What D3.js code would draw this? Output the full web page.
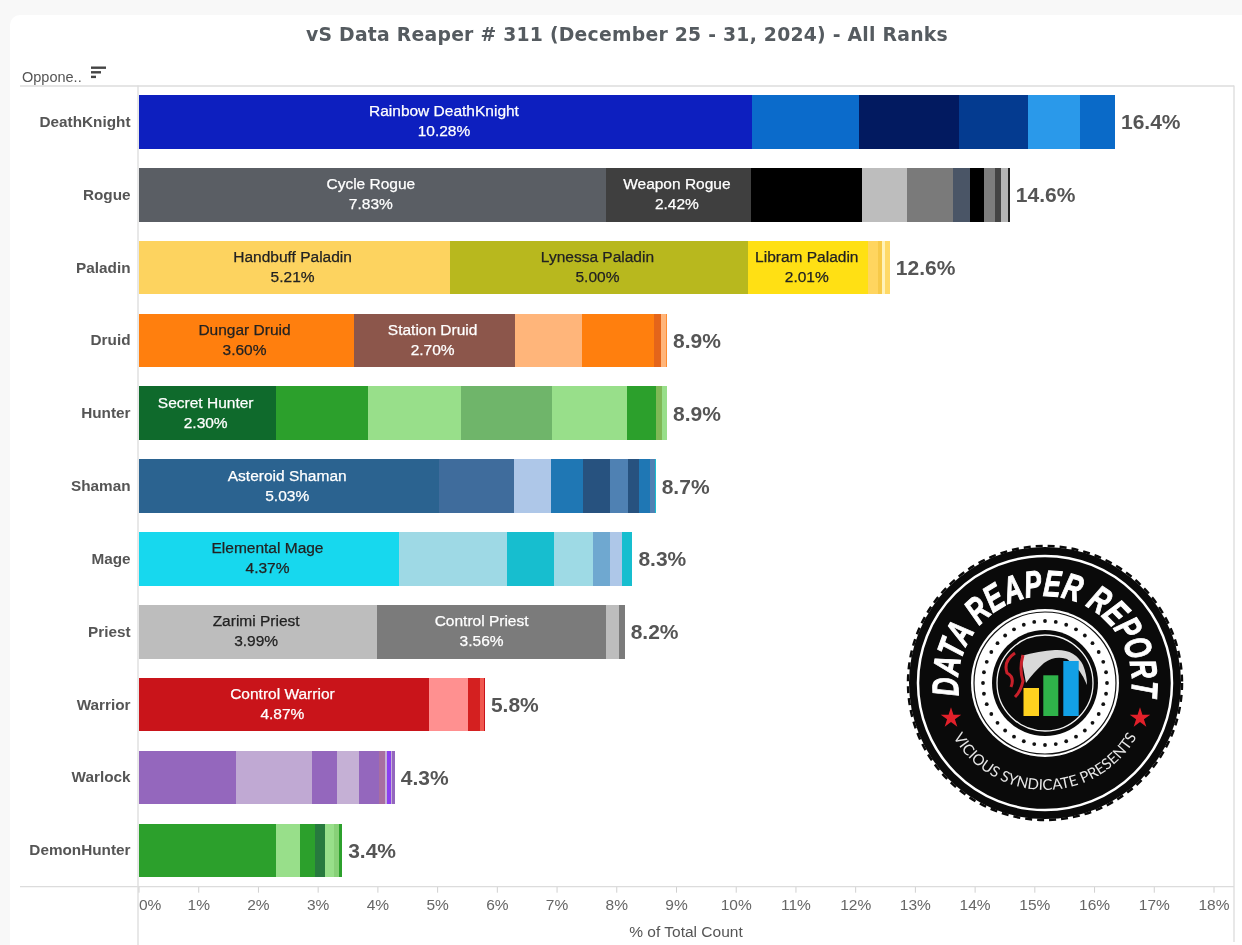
<!DOCTYPE html>
<html>
<head>
<meta charset="utf-8">
<script src="https://cdn.jsdelivr.net/npm/d3@7"></script>
<style>
html,body{margin:0;padding:0;background:#f8f8f8;overflow:hidden}
svg{display:block;filter:blur(0.45px)}
text{font-family:"Liberation Sans",Arial,sans-serif}
</style>
</head>
<body>
<svg id="chart" width="1242" height="945"></svg>
<script>
const chartTitle = "vS Data Reaper # 311 (December 25 - 31, 2024) - All Ranks";
const dimensionLabel = "Oppone..";
const axisTitle = "% of Total Count";

const classes = ["DeathKnight","Rogue","Paladin","Druid","Hunter","Shaman","Mage","Priest","Warrior","Warlock","DemonHunter"];
const totalLabels = ["16.4%","14.6%","12.6%","8.9%","8.9%","8.7%","8.3%","8.2%","5.8%","4.3%","3.4%"];
const xTicks = d3.range(0,19);

const deathKnightValues = [10.28,1.79,1.67,1.15,0.88,0.58];
const rogueValues = [7.83,2.42,1.87,0.75,0.76,0.30,0.22,0.19,0.10,0.12,0.03];
const paladinValues = [5.21,5.00,2.01,0.16,0.07,0.05,0.08];
const druidValues = [3.60,2.70,1.12,1.21,0.12,0.08,0.02];
const hunterValues = [2.30,1.55,1.55,1.53,1.25,0.49,0.10,0.08];
const shamanValues = [5.03,1.25,0.63,0.54,0.44,0.30,0.19,0.18,0.08,0.02];
const mageValues = [4.37,1.80,0.78,0.66,0.28,0.20,0.18];
const priestValues = [3.99,3.56,0.28,0.21,0.10];
const warriorValues = [4.87,0.64,0.21,0.06,0.02];
const warlockValues = [1.64,1.27,0.42,0.37,0.32,0.10,0.04,0.06,0.03,0.04];
const demonHunterValues = [2.30,0.41,0.24,0.18,0.15,0.07,0.06];

const deathKnightColors = ["#0d1fbf","#0b6bcb","#021a60","#043b90","#2a99ea","#0a6ac8"];
const rogueColors = ["#5a5e64","#3f3f3f","#000000","#bdbdbd","#7a7a7a","#4a5566","#000000","#7d7d7d","#444444","#b5b5b5","#222222"];
const paladinColors = ["#fdd35f","#b8b81e","#ffe014","#ffd55f","#f7c948","#fff2b8","#ffd966"];
const druidColors = ["#ff7f0e","#8c564b","#ffb57a","#ff7f0e","#e4651a","#ffb57a","#ff8c30"];
const hunterColors = ["#0f6a2c","#2ca02c","#98df8a","#6fb56a","#98df8a","#2ca02c","#7fb956","#98df8a"];
const shamanColors = ["#2b6390","#3f6c9c","#aec7e8","#1f77b4","#27527f","#4f81b3","#27527f","#1f77b4","#4f81b3","#17becf"];
const mageColors = ["#17d8ee","#9ed9e5","#17becf","#9edae5","#6fa8d0","#aec7e8","#17becf"];
const priestColors = ["#bdbdbd","#7b7b7b","#7b7b7b","#bdbdbd","#7b7b7b"];
const warriorColors = ["#c9141a","#ff9090","#d42020","#f0584f","#c9141a"];
const warlockColors = ["#9467bd","#c0a9d3","#9467bd","#c5b0d5","#9467bd","#a86ea0","#c5b0d5","#8a3ff0","#c5b0d5","#9467bd"];
const demonHunterColors = ["#2ca02c","#98df8a","#2ca02c","#277a3e","#98df8a","#88d078","#2ca02c"];

// segment captions: [class index, segment index, name, value text, text colour]
const segmentCaptions = [
  [0,0,"Rainbow DeathKnight","10.28%","#ffffff"],
  [1,0,"Cycle Rogue","7.83%","#ffffff"],
  [1,1,"Weapon Rogue","2.42%","#ffffff"],
  [2,0,"Handbuff Paladin","5.21%","#222222"],
  [2,1,"Lynessa Paladin","5.00%","#222222"],
  [2,2,"Libram Paladin","2.01%","#222222"],
  [3,0,"Dungar Druid","3.60%","#222222"],
  [3,1,"Station Druid","2.70%","#ffffff"],
  [4,0,"Secret Hunter","2.30%","#ffffff"],
  [5,0,"Asteroid Shaman","5.03%","#ffffff"],
  [6,0,"Elemental Mage","4.37%","#222222"],
  [7,0,"Zarimi Priest","3.99%","#222222"],
  [7,1,"Control Priest","3.56%","#ffffff"],
  [8,0,"Control Warrior","4.87%","#ffffff"]
];

const allValues = [deathKnightValues,rogueValues,paladinValues,druidValues,hunterValues,shamanValues,mageValues,priestValues,warriorValues,warlockValues,demonHunterValues];
const allColors = [deathKnightColors,rogueColors,paladinColors,druidColors,hunterColors,shamanColors,mageColors,priestColors,warriorColors,warlockColors,demonHunterColors];

const svg = d3.select("#chart");
const plotLeft = 138.5, plotRight = 1213.5, plotTop = 85.5, plotBottom = 886.7;

// card
svg.append("rect").attr("x",10).attr("y",15).attr("width",1300).attr("height",1000).attr("rx",10).attr("fill","#ffffff");

const x = d3.scaleLinear().domain([0,18]).range([plotLeft,plotRight]);
const y = d3.scaleBand().domain(classes).range([plotTop,plotBottom]).paddingInner(0.265).paddingOuter(0.1327);

// frame
const frame = svg.append("g").attr("stroke","#dcdcdc").attr("stroke-width",1.3).attr("fill","none");
frame.append("line").attr("x1",20).attr("x2",1234).attr("y1",plotTop+.5).attr("y2",plotTop+.5);
frame.append("line").attr("x1",plotLeft-.5).attr("x2",plotLeft-.5).attr("y1",plotTop).attr("y2",945);
frame.append("line").attr("x1",1234).attr("x2",1234).attr("y1",plotTop).attr("y2",942);

// title
svg.append("text").attr("x",627).attr("y",41).attr("text-anchor","middle")
  .style("font-family","'DejaVu Sans',sans-serif").style("font-weight","bold").style("font-size","18.8px").style("letter-spacing","0.25px")
  .attr("fill","#555b60").text(chartTitle);

// header with sort icon
svg.append("text").attr("x",22).attr("y",82).attr("fill","#555").style("font-size","14.5px").text(dimensionLabel);
const sortIcon = svg.append("g").attr("fill","#444");
[15,10,5].forEach((w,i)=>{
  sortIcon.append("rect").attr("x",91).attr("y",66.5+i*4.6).attr("width",w).attr("height",2.4);
});

// bars
const rows = svg.append("g").selectAll("g").data(classes).join("g")
  .attr("transform",d=>`translate(0,${y(d)})`);
rows.each(function(name,i){
  let cum = 0;
  const segs = allValues[i].map((v,k)=>{const s={start:cum,end:cum+v,color:allColors[i][k]};cum+=v;return s;});
  d3.select(this).selectAll("rect").data(segs).join("rect")
    .attr("x",d=>x(d.start)).attr("width",d=>x(d.end)-x(d.start))
    .attr("y",0).attr("height",y.bandwidth()).attr("fill",d=>d.color).attr("shape-rendering","crispEdges");
  d3.select(this).append("text").attr("x",x(cum)+6).attr("y",y.bandwidth()/2+7.5)
    .attr("fill","#555").style("font-weight","bold").style("font-size","21px").text(totalLabels[i]);
  d3.select(this).append("text").attr("x",plotLeft-8).attr("y",y.bandwidth()/2+5)
    .attr("text-anchor","end").attr("fill","#555").style("font-weight","bold").style("font-size","15.3px").text(name);
});

// captions
svg.append("g").selectAll("text").data(segmentCaptions).join("text")
  .attr("text-anchor","middle").attr("fill",d=>d[4]).attr("stroke",d=>d[4]).attr("stroke-width",0.25)
  .style("font-size","15.5px")
  .each(function(d){
    const vals = allValues[d[0]];
    const s = d3.sum(vals.slice(0,d[1])), e = s+vals[d[1]];
    const cx = (x(s)+x(e))/2 - 1.5, cy = y(classes[d[0]])+y.bandwidth()/2;
    const t = d3.select(this);
    t.append("tspan").attr("x",cx).attr("y",cy-5.5).text(d[2]);
    t.append("tspan").attr("x",cx).attr("y",cy+14.5).text(d[3]);
  });

// x axis
const axis = svg.append("g").attr("transform",`translate(0,${plotBottom})`)
  .call(d3.axisBottom(x).tickValues(xTicks).tickFormat(d=>d+"%").tickSize(6).tickPadding(6));
axis.select(".domain").remove();
axis.append("line").attr("x1",20).attr("x2",1234).attr("stroke","#dcdcdc").attr("stroke-width",1.3);
axis.selectAll(".tick line").attr("stroke","#d0d0d0");
axis.selectAll(".tick text").attr("fill","#666").style("font-size","15.5px").style("font-family","'Liberation Sans',Arial,sans-serif");
axis.selectAll(".tick").filter(d=>d===0).select("text").attr("text-anchor","start").attr("x",0);
svg.append("text").attr("x",686).attr("y",937).attr("text-anchor","middle").attr("fill","#555").style("font-size","15.5px").text(axisTitle);

// logo
const logo = svg.append("g").attr("transform","translate(1045,683)");
logo.append("circle").attr("r",136).attr("fill","#0a0a0a");
logo.append("circle").attr("r",137).attr("fill","none").attr("stroke","#0a0a0a").attr("stroke-width",2.5).attr("stroke-dasharray","7 5");
logo.append("circle").attr("r",127).attr("fill","none").attr("stroke","#fff").attr("stroke-width",2.5);
const defs = svg.append("defs");
defs.append("path").attr("id","arcTop").attr("d","M -85.7 15.1 A 87 87 0 1 1 85.7 15.1");
defs.append("path").attr("id","arcBottom").attr("d","M -94 50 A 106 106 0 0 0 94 50");
logo.append("text").attr("fill","#fff").attr("stroke","#fff").attr("stroke-width",1).style("font-weight","bold").style("font-style","italic").style("font-size","37px")
  .append("textPath").attr("href","#arcTop").attr("startOffset","50%").attr("text-anchor","middle")
  .attr("textLength",298).attr("lengthAdjust","spacingAndGlyphs").text("DATA REAPER REPORT");
logo.append("text").attr("fill","#e6e6e6").style("font-family","Lato,sans-serif").style("font-size","15px")
  .append("textPath").attr("href","#arcBottom").attr("startOffset","50%").attr("text-anchor","middle")
  .attr("textLength",222).attr("lengthAdjust","spacing").text("VICIOUS SYNDICATE PRESENTS");
[-94,95].forEach(sx=>{
  logo.append("path").attr("d",d3.symbol(d3.symbolStar,130)()).attr("transform",`translate(${sx},35)`).attr("fill","#e2202a");
});
logo.append("circle").attr("r",74).attr("fill","#fff");
logo.append("circle").attr("r",71).attr("fill","none").attr("stroke","#111").attr("stroke-width",1.2);
logo.selectAll("circle.dot").data(d3.range(36)).join("circle").attr("class","dot").attr("r",1.9).attr("fill","#111")
  .attr("cx",d=>62*Math.cos(d*Math.PI/18)).attr("cy",d=>62*Math.sin(d*Math.PI/18));
logo.append("circle").attr("r",53).attr("fill","#0a0a0a");
logo.append("circle").attr("r",48).attr("fill","none").attr("stroke","#f4f4f4").attr("stroke-width",1.3);
logo.append("path").attr("d","M -24 -27 Q -6 -32 10 -33 Q 30 -34 38 -18 Q 42 -8 42 2 Q 36 -14 22 -24 Q 10 -28 -1 -20 Q -12 -10 -19 0 Z").attr("fill","#d8d8d8");
logo.append("path").attr("d","M -30 -30 Q -42 -22 -38 -10 Q -30 -6 -34 4 M -22 -28 Q -26 -14 -22 -2 Q -24 8 -30 14").attr("fill","none").attr("stroke","#c8202a").attr("stroke-width",3);
[[-21.5,5,15.5,"#ffd21f"],[-1.7,-7.7,15,"#2fb34a"],[18.3,-22,15.4,"#12a0e6"]].forEach(b=>{
  logo.append("rect").attr("x",b[0]).attr("y",b[1]).attr("width",b[2]).attr("height",33-b[1]).attr("fill",b[3]);
});
</script>
</body>
</html>
